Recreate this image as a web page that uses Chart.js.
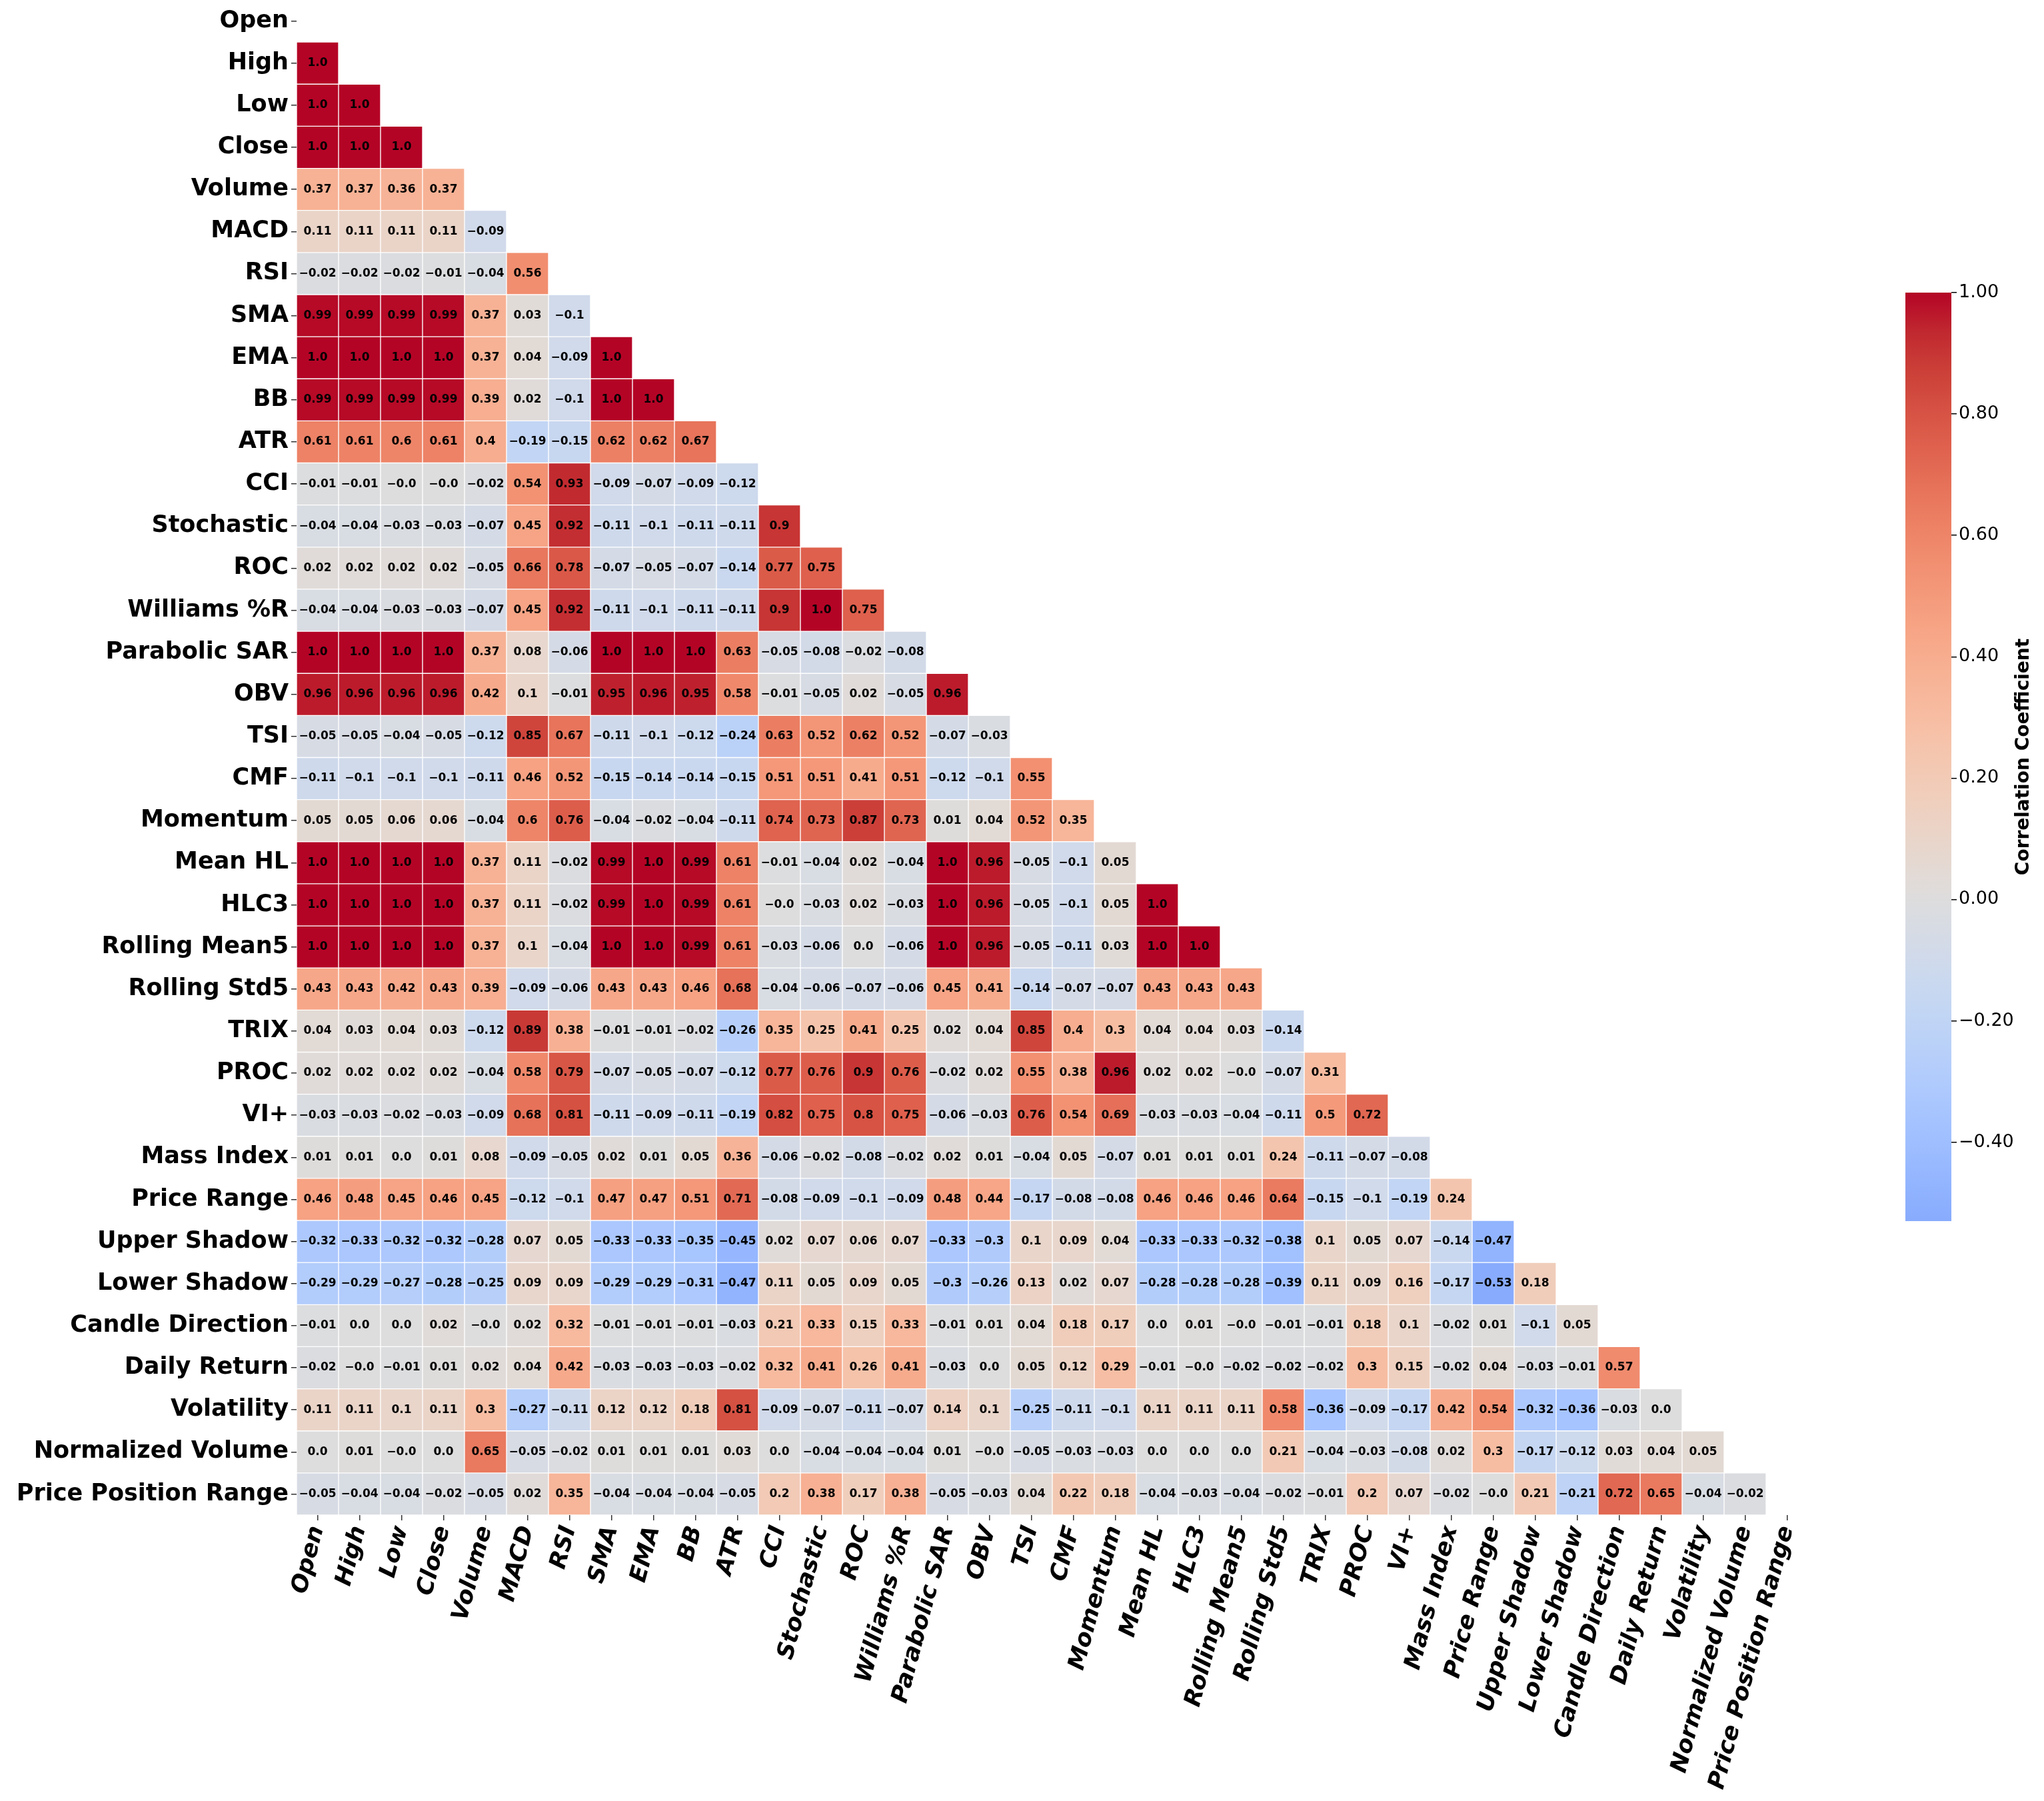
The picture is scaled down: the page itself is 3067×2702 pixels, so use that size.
<!DOCTYPE html>
<html>
<head>
<meta charset="utf-8">
<title>Correlation heatmap</title>
<script src="https://cdn.jsdelivr.net/npm/chart.js@4.4.1/dist/chart.umd.min.js"></script>
<style>
  html, body { margin: 0; padding: 0; background: #fff; }
  body { width: 3067px; height: 2702px; position: relative; overflow: hidden; }
  #heat { position: absolute; left: 0; top: 0; }
  #cbar { position: absolute; left: 2800px; top: 400px; }
</style>
</head>
<body>
<canvas id="heat" width="2730" height="2702"></canvas>
<canvas id="cbar" width="267" height="1480"></canvas>
<script>
// variable names, top to bottom / left to right
const variables = ['Open', 'High', 'Low', 'Close', 'Volume', 'MACD', 'RSI', 'SMA', 'EMA', 'BB',
  'ATR', 'CCI', 'Stochastic', 'ROC', 'Williams %R', 'Parabolic SAR', 'OBV', 'TSI', 'CMF', 'Momentum',
  'Mean HL', 'HLC3', 'Rolling Mean5', 'Rolling Std5', 'TRIX', 'PROC', 'VI+', 'Mass Index', 'Price Range',
  'Upper Shadow', 'Lower Shadow', 'Candle Direction', 'Daily Return', 'Volatility', 'Normalized Volume',
  'Price Position Range'];

// lower triangle, one array per row (values left of the diagonal)
const highRow = [1.0];
const lowRow = [1.0, 1.0];
const closeRow = [1.0, 1.0, 1.0];
const volumeRow = [0.37, 0.37, 0.36, 0.37];
const macdRow = [0.11, 0.11, 0.11, 0.11, -0.09];
const rsiRow = [-0.02, -0.02, -0.02, -0.01, -0.04, 0.56];
const smaRow = [0.99, 0.99, 0.99, 0.99, 0.37, 0.03, -0.1];
const emaRow = [1.0, 1.0, 1.0, 1.0, 0.37, 0.04, -0.09, 1.0];
const bbRow = [0.99, 0.99, 0.99, 0.99, 0.39, 0.02, -0.1, 1.0, 1.0];
const atrRow = [0.61, 0.61, 0.6, 0.61, 0.4, -0.19, -0.15, 0.62, 0.62, 0.67];
const cciRow = [-0.01, -0.01, -0.0, -0.0, -0.02, 0.54, 0.93, -0.09, -0.07, -0.09, -0.12];
const stochRow = [-0.04, -0.04, -0.03, -0.03, -0.07, 0.45, 0.92, -0.11, -0.1, -0.11, -0.11, 0.9];
const rocRow = [0.02, 0.02, 0.02, 0.02, -0.05, 0.66, 0.78, -0.07, -0.05, -0.07, -0.14, 0.77, 0.75];
const williamsRow = [-0.04, -0.04, -0.03, -0.03, -0.07, 0.45, 0.92, -0.11, -0.1, -0.11, -0.11, 0.9, 1.0, 0.75];
const sarRow = [1.0, 1.0, 1.0, 1.0, 0.37, 0.08, -0.06, 1.0, 1.0, 1.0, 0.63, -0.05, -0.08, -0.02, -0.08];
const obvRow = [0.96, 0.96, 0.96, 0.96, 0.42, 0.1, -0.01, 0.95, 0.96, 0.95, 0.58, -0.01, -0.05, 0.02, -0.05, 0.96];
const tsiRow = [-0.05, -0.05, -0.04, -0.05, -0.12, 0.85, 0.67, -0.11, -0.1, -0.12, -0.24, 0.63, 0.52, 0.62, 0.52,
  -0.07, -0.03];
const cmfRow = [-0.11, -0.1, -0.1, -0.1, -0.11, 0.46, 0.52, -0.15, -0.14, -0.14, -0.15, 0.51, 0.51, 0.41, 0.51,
  -0.12, -0.1, 0.55];
const momentumRow = [0.05, 0.05, 0.06, 0.06, -0.04, 0.6, 0.76, -0.04, -0.02, -0.04, -0.11, 0.74, 0.73, 0.87, 0.73,
  0.01, 0.04, 0.52, 0.35];
const meanHLRow = [1.0, 1.0, 1.0, 1.0, 0.37, 0.11, -0.02, 0.99, 1.0, 0.99, 0.61, -0.01, -0.04, 0.02, -0.04,
  1.0, 0.96, -0.05, -0.1, 0.05];
const hlc3Row = [1.0, 1.0, 1.0, 1.0, 0.37, 0.11, -0.02, 0.99, 1.0, 0.99, 0.61, -0.0, -0.03, 0.02, -0.03,
  1.0, 0.96, -0.05, -0.1, 0.05, 1.0];
const rollMeanRow = [1.0, 1.0, 1.0, 1.0, 0.37, 0.1, -0.04, 1.0, 1.0, 0.99, 0.61, -0.03, -0.06, 0.0, -0.06,
  1.0, 0.96, -0.05, -0.11, 0.03, 1.0, 1.0];
const rollStdRow = [0.43, 0.43, 0.42, 0.43, 0.39, -0.09, -0.06, 0.43, 0.43, 0.46, 0.68, -0.04, -0.06, -0.07, -0.06,
  0.45, 0.41, -0.14, -0.07, -0.07, 0.43, 0.43, 0.43];
const trixRow = [0.04, 0.03, 0.04, 0.03, -0.12, 0.89, 0.38, -0.01, -0.01, -0.02, -0.26, 0.35, 0.25, 0.41, 0.25,
  0.02, 0.04, 0.85, 0.4, 0.3, 0.04, 0.04, 0.03, -0.14];
const procRow = [0.02, 0.02, 0.02, 0.02, -0.04, 0.58, 0.79, -0.07, -0.05, -0.07, -0.12, 0.77, 0.76, 0.9, 0.76,
  -0.02, 0.02, 0.55, 0.38, 0.96, 0.02, 0.02, -0.0, -0.07, 0.31];
const viRow = [-0.03, -0.03, -0.02, -0.03, -0.09, 0.68, 0.81, -0.11, -0.09, -0.11, -0.19, 0.82, 0.75, 0.8, 0.75,
  -0.06, -0.03, 0.76, 0.54, 0.69, -0.03, -0.03, -0.04, -0.11, 0.5, 0.72];
const massRow = [0.01, 0.01, 0.0, 0.01, 0.08, -0.09, -0.05, 0.02, 0.01, 0.05, 0.36, -0.06, -0.02, -0.08, -0.02,
  0.02, 0.01, -0.04, 0.05, -0.07, 0.01, 0.01, 0.01, 0.24, -0.11, -0.07, -0.08];
const priceRangeRow = [0.46, 0.48, 0.45, 0.46, 0.45, -0.12, -0.1, 0.47, 0.47, 0.51, 0.71, -0.08, -0.09, -0.1, -0.09,
  0.48, 0.44, -0.17, -0.08, -0.08, 0.46, 0.46, 0.46, 0.64, -0.15, -0.1, -0.19, 0.24];
const upperRow = [-0.32, -0.33, -0.32, -0.32, -0.28, 0.07, 0.05, -0.33, -0.33, -0.35, -0.45, 0.02, 0.07, 0.06, 0.07,
  -0.33, -0.3, 0.1, 0.09, 0.04, -0.33, -0.33, -0.32, -0.38, 0.1, 0.05, 0.07, -0.14, -0.47];
const lowerRow = [-0.29, -0.29, -0.27, -0.28, -0.25, 0.09, 0.09, -0.29, -0.29, -0.31, -0.47, 0.11, 0.05, 0.09, 0.05,
  -0.3, -0.26, 0.13, 0.02, 0.07, -0.28, -0.28, -0.28, -0.39, 0.11, 0.09, 0.16, -0.17, -0.53, 0.18];
const candleRow = [-0.01, 0.0, 0.0, 0.02, -0.0, 0.02, 0.32, -0.01, -0.01, -0.01, -0.03, 0.21, 0.33, 0.15, 0.33,
  -0.01, 0.01, 0.04, 0.18, 0.17, 0.0, 0.01, -0.0, -0.01, -0.01, 0.18, 0.1, -0.02, 0.01, -0.1, 0.05];
const dailyRow = [-0.02, -0.0, -0.01, 0.01, 0.02, 0.04, 0.42, -0.03, -0.03, -0.03, -0.02, 0.32, 0.41, 0.26, 0.41,
  -0.03, 0.0, 0.05, 0.12, 0.29, -0.01, -0.0, -0.02, -0.02, -0.02, 0.3, 0.15, -0.02, 0.04, -0.03, -0.01, 0.57];
const volatilityRow = [0.11, 0.11, 0.1, 0.11, 0.3, -0.27, -0.11, 0.12, 0.12, 0.18, 0.81, -0.09, -0.07, -0.11, -0.07,
  0.14, 0.1, -0.25, -0.11, -0.1, 0.11, 0.11, 0.11, 0.58, -0.36, -0.09, -0.17, 0.42, 0.54, -0.32, -0.36, -0.03, 0.0];
const normVolRow = [0.0, 0.01, -0.0, 0.0, 0.65, -0.05, -0.02, 0.01, 0.01, 0.01, 0.03, 0.0, -0.04, -0.04, -0.04,
  0.01, -0.0, -0.05, -0.03, -0.03, 0.0, 0.0, 0.0, 0.21, -0.04, -0.03, -0.08, 0.02, 0.3, -0.17, -0.12, 0.03, 0.04, 0.05];
const pprRow = [-0.05, -0.04, -0.04, -0.02, -0.05, 0.02, 0.35, -0.04, -0.04, -0.04, -0.05, 0.2, 0.38, 0.17, 0.38,
  -0.05, -0.03, 0.04, 0.22, 0.18, -0.04, -0.03, -0.04, -0.02, -0.01, 0.2, 0.07, -0.02, -0.0, 0.21, -0.21, 0.72, 0.65,
  -0.04, -0.02];

// colorbar tick values
const cbTicks = [-0.4, -0.2, 0.0, 0.2, 0.4, 0.6, 0.8, 1.0];

const lowerRows = [[], highRow, lowRow, closeRow, volumeRow, macdRow, rsiRow, smaRow, emaRow, bbRow, atrRow,
  cciRow, stochRow, rocRow, williamsRow, sarRow, obvRow, tsiRow, cmfRow, momentumRow, meanHLRow, hlc3Row,
  rollMeanRow, rollStdRow, trixRow, procRow, viRow, massRow, priceRangeRow, upperRow, lowerRow, candleRow,
  dailyRow, volatilityRow, normVolRow, pprRow];

const vmin = Math.min(...lowerRows.flat());
const vmax = 1.0;

// matplotlib coolwarm (Moreland table, 33 stops)
const coolwarmStops = [
  [59, 76, 192], [68, 90, 204], [77, 104, 215], [87, 117, 225], [98, 130, 234], [108, 142, 241],
  [119, 154, 247], [130, 165, 251], [141, 176, 254], [152, 185, 255], [163, 194, 255], [174, 201, 253],
  [184, 208, 249], [194, 213, 244], [204, 217, 238], [213, 219, 230], [221, 221, 221], [229, 216, 209],
  [236, 211, 197], [241, 204, 184], [245, 196, 172], [247, 187, 160], [247, 177, 148], [247, 166, 135],
  [244, 154, 123], [241, 141, 111], [236, 127, 99], [229, 112, 88], [222, 96, 77], [213, 80, 66],
  [203, 62, 56], [192, 40, 47], [180, 4, 38]];

// centred at 0, like seaborn's center=0
function coolwarm(v) {
  const t = Math.max(0, Math.min(1, (v + 1) / 2)) * (coolwarmStops.length - 1);
  const i = Math.min(Math.floor(t), coolwarmStops.length - 2);
  const f = t - i;
  const a = coolwarmStops[i], b = coolwarmStops[i + 1];
  const c = a.map((x, k) => Math.round(x + (b[k] - x) * f));
  return `rgb(${c[0]},${c[1]},${c[2]})`;
}

function fmt(v) {
  const neg = v < 0 || Object.is(v, -0);
  const a = Math.abs(v);
  const s = Math.round(a * 100) % 10 === 0 ? a.toFixed(1) : a.toFixed(2);
  return (neg ? '\u2212' : '') + s;
}

const FONT = 'DejaVu Sans';

// one floating-bar dataset per row, each cell spans [i-0.5, i+0.5]
const datasets = variables.map((name, i) => {
  const row = lowerRows[i];
  return {
    label: name,
    data: variables.map((_, j) => j < row.length ? [i - 0.5, i + 0.5] : null),
    backgroundColor: variables.map((_, j) => j < row.length ? coolwarm(row[j]) : 'rgba(0,0,0,0)'),
    borderColor: '#ffffff',
    borderWidth: 1,
    borderSkipped: false,
    grouped: false,
    barPercentage: 1,
    categoryPercentage: 1
  };
});

const cellLabels = {
  id: 'cellLabels',
  afterDatasetsDraw(chart) {
    const { ctx, scales: { x, y } } = chart;
    ctx.save();
    ctx.font = `bold 17px "${FONT}"`;
    ctx.fillStyle = '#000';
    ctx.textAlign = 'center';
    ctx.textBaseline = 'middle';
    lowerRows.forEach((row, i) => {
      row.forEach((v, j) => ctx.fillText(fmt(v), x.getPixelForValue(j), y.getPixelForValue(i)));
    });
    ctx.restore();
  }
};

new Chart(document.getElementById('heat'), {
  type: 'bar',
  data: { labels: variables, datasets },
  options: {
    responsive: false,
    animation: false,
    devicePixelRatio: 1,
    layout: { padding: { left: 0, top: 0, right: 17, bottom: 0 } },
    plugins: { legend: { display: false }, tooltip: { enabled: false } },
    scales: {
      x: {
        type: 'category',
        offset: true,
        border: { display: false },
        grid: { offset: false, drawOnChartArea: false, drawTicks: true, tickLength: 8, color: '#333', lineWidth: 1.5 },
        ticks: {
          autoSkip: false, minRotation: 75, maxRotation: 75, padding: 4, color: '#000',
          font: { family: FONT, size: 35, weight: 'bold', style: 'italic' }
        },
        afterFit: s => { s.height = 429; }
      },
      y: {
        type: 'linear',
        reverse: true,
        min: -0.5,
        max: variables.length - 0.5,
        border: { display: false },
        grid: { drawOnChartArea: false, drawTicks: true, tickLength: 8, color: '#333', lineWidth: 1.5 },
        afterBuildTicks: s => { s.ticks = variables.map((_, i) => ({ value: i })); },
        ticks: {
          autoSkip: false, padding: 4, color: '#000',
          callback: v => variables[v],
          font: { family: FONT, size: 35, weight: 'bold' }
        },
        afterFit: s => { s.width = 445; s.paddingTop = 0; s.paddingBottom = 0; }
      }
    }
  },
  plugins: [cellLabels]
});

// colorbar
function cbGradient(chart) {
  const { ctx, chartArea, scales } = chart;
  if (!chartArea) return coolwarm(0);
  const y = scales.y;
  const g = ctx.createLinearGradient(0, y.getPixelForValue(vmin), 0, y.getPixelForValue(vmax));
  const n = 48;
  for (let k = 0; k <= n; k++) {
    g.addColorStop(k / n, coolwarm(vmin + (vmax - vmin) * k / n));
  }
  return g;
}

const cbTitle = {
  id: 'cbTitle',
  afterDraw(chart) {
    const { ctx, chartArea } = chart;
    ctx.save();
    ctx.translate(chart.width - 30, (chartArea.top + chartArea.bottom) / 2);
    ctx.rotate(-Math.PI / 2);
    ctx.font = `bold 28px "${FONT}"`;
    ctx.fillStyle = '#000';
    ctx.textAlign = 'center';
    ctx.textBaseline = 'middle';
    ctx.fillText('Correlation Coefficient', 0, 0);
    ctx.restore();
  }
};

new Chart(document.getElementById('cbar'), {
  type: 'bar',
  data: {
    labels: [''],
    datasets: [{
      data: [[vmin, vmax]],
      backgroundColor: ctx => cbGradient(ctx.chart),
      borderWidth: 0,
      barPercentage: 1,
      categoryPercentage: 1
    }]
  },
  options: {
    responsive: false,
    animation: false,
    devicePixelRatio: 1,
    layout: { padding: { left: 59, top: 39, bottom: 48, right: 0 } },
    plugins: { legend: { display: false }, tooltip: { enabled: false } },
    scales: {
      x: { display: false },
      y: {
        position: 'right',
        min: vmin,
        max: vmax,
        border: { display: false },
        grid: { drawOnChartArea: false, drawTicks: true, tickLength: 8, color: '#000', lineWidth: 1.5 },
        afterBuildTicks: s => { s.ticks = cbTicks.map(v => ({ value: v })); },
        ticks: {
          padding: 3, color: '#000',
          callback: v => (v < 0 ? '\u2212' : '') + Math.abs(v).toFixed(2),
          font: { family: FONT, size: 27 }
        },
        afterFit: s => { s.width = 139; }
      }
    }
  },
  plugins: [cbTitle]
});
</script>
</body>
</html>
